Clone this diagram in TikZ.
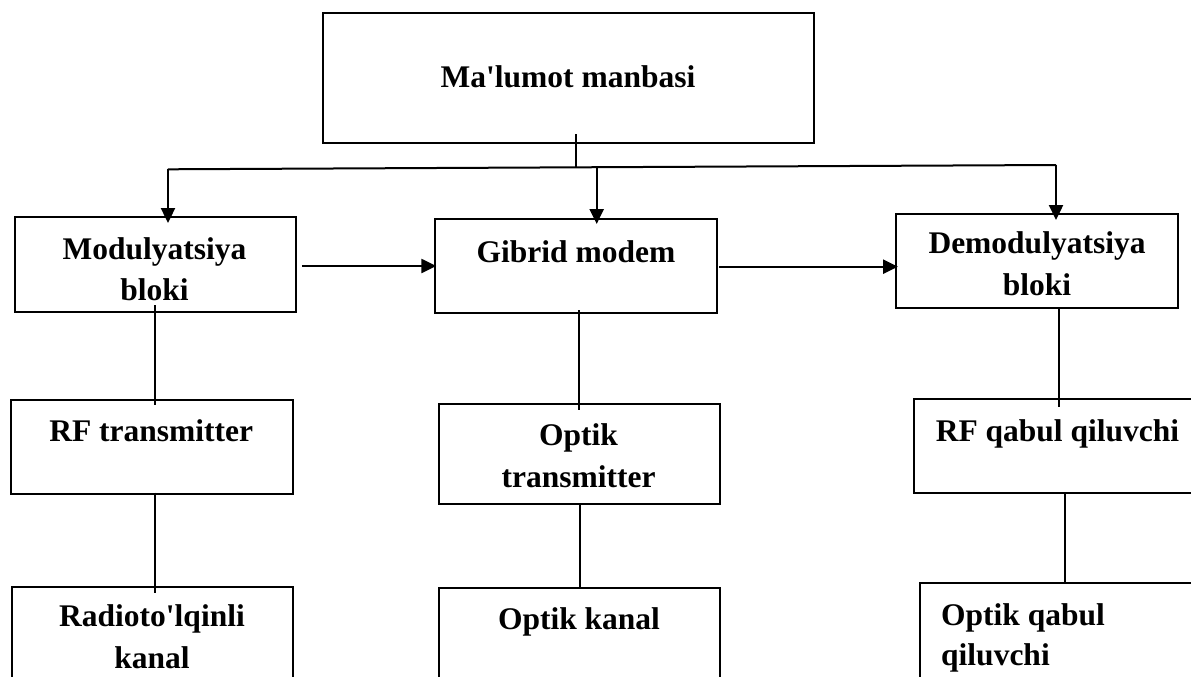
\documentclass[tikz,border=0pt]{standalone}
\usepackage{fontspec}
\setmainfont{Liberation Serif}[Ligatures=TeXOff]
\usetikzlibrary{arrows.meta}
\begin{document}
\begin{tikzpicture}[x=1pt,y=-1pt,
  box/.style={draw,line width=2pt,rectangle,inner sep=0pt,outer sep=0pt,anchor=north west},
  lbl/.style={font=\fontsize{31.5}{42}\selectfont\bfseries,inner sep=0pt,anchor=base},
  lblw/.style={lbl,anchor=base west},
  arr/.style={line width=2.4pt,-{Triangle[length=15pt,width=14pt]}},
  conn/.style={line width=1.8pt}]
\path[use as bounding box] (0,0) rectangle (1191,677);
\clip (0,0) rectangle (1191,677);

% boxes
\node[box,minimum width=491pt,minimum height=130pt] (src) at (323,13) {};
\node[box,minimum width=281.3pt,minimum height=94.4pt] (mod) at (14.5,217.3) {};
\node[box,minimum width=282pt,minimum height=94pt] (gib) at (435,219.3) {};
\node[box,minimum width=282pt,minimum height=93.7pt] (dem) at (896,214) {};
\node[box,minimum width=282.1pt,minimum height=94pt] (rft) at (10.7,400) {};
\node[box,minimum width=281pt,minimum height=100.3pt] (opt) at (439,404) {};
\node[box,minimum width=290pt,minimum height=94pt] (rfq) at (914,399.3) {};
\node[box,minimum width=281pt,minimum height=120pt] (rad) at (11.7,587.3) {};
\node[box,minimum width=281pt,minimum height=120pt] (opk) at (439,588.3) {};
\node[box,minimum width=290pt,minimum height=120pt] (opq) at (920,583.3) {};

% labels
\node[lbl] (tsrc) at (568,87) {Ma'lumot manbasi};
\node[lbl] (tmod1) at (154.5,259) {Modulyatsiya};
\node[lbl] (tmod2) at (154.5,300.5) {bloki};
\node[lbl] (tgib) at (576,262.5) {Gibrid modem};
\node[lbl] (tdem1) at (1037,253.5) {Demodulyatsiya};
\node[lbl] (tdem2) at (1037,295.5) {bloki};
\node[lbl] (trft) at (151.2,441.7) {RF transmitter};
\node[lbl] (topt1) at (578.6,445) {Optik};
\node[lbl] (topt2) at (578.6,487.3) {transmitter};
\node[lbl] (trfq) at (1057.5,441.7) {RF qabul qiluvchi};
\node[lbl] (trad1) at (152,626.7) {Radioto'lqinli};
\node[lbl] (trad2) at (152,668.3) {kanal};
\node[lbl] (topk) at (579,629.3) {Optik kanal};
\node[lblw] (topq1) at (941,625) {Optik qabul};
\node[lblw] (topq2) at (941,665.5) {qiluvchi};

% distribution bus
\coordinate (bl) at (168,169.3);
\coordinate (br) at (1056,165);
\coordinate (bj) at (576,167.4);
\coordinate (bm) at (596.7,168.3);
\draw[conn] ([xshift=253pt,yshift=9pt]src.south west) -- (bj);
\draw[line width=2pt] (bl) -- (br);
\draw[arr] (bl) -- ([xshift=153.5pt,yshift=-5.7pt]mod.north west);
\draw[arr] (bm) -- ([xshift=161.7pt,yshift=-4.7pt]gib.north west);
\draw[arr] (br) -- ([xshift=160pt,yshift=-6pt]dem.north west);

% horizontal flow
\draw[arr] ([xshift=6pt,yshift=-48.7pt]mod.north east) -- ([xshift=1.3pt,yshift=-46.7pt]gib.north west);
\draw[arr] ([xshift=2pt,yshift=-47.4pt]gib.north east) -- ([xshift=2pt,yshift=-52.7pt]dem.north west);

% vertical chains
\draw[conn] ([xshift=140.5pt,yshift=6.7pt]mod.south west) -- ([xshift=144.3pt,yshift=-5pt]rft.north west);
\draw[conn] ([xshift=144.3pt,yshift=1.3pt]rft.south west) -- ([xshift=143.3pt,yshift=-5.7pt]rad.north west);
\draw[conn] ([xshift=143.6pt,yshift=3.3pt]gib.south west) -- ([xshift=139.6pt,yshift=-6pt]opt.north west);
\draw[conn] ([xshift=140.8pt]opt.south west) -- ([xshift=140.8pt]opk.north west);
\draw[conn] ([xshift=162.8pt]dem.south west) -- ([xshift=144.8pt,yshift=-7.7pt]rfq.north west);
\draw[conn] ([xshift=151pt]rfq.south west) -- ([xshift=145pt,yshift=0.6pt]opq.north west);
\end{tikzpicture}
\end{document}
